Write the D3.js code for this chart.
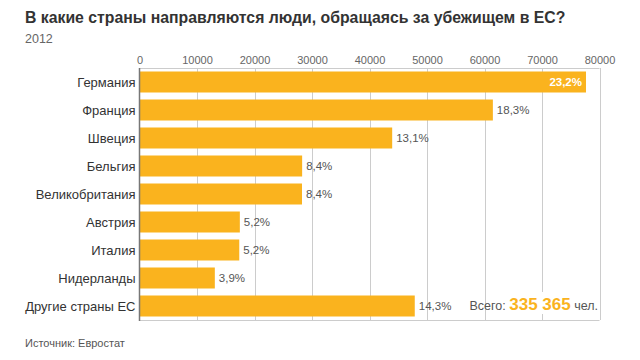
<!DOCTYPE html>
<html><head><meta charset="utf-8">
<script src="https://cdn.jsdelivr.net/npm/d3@7"></script>
<style>body{margin:0;background:#fff;font-family:"Liberation Sans",Arial,sans-serif;}</style>
</head><body><svg id="c" width="640" height="360"></svg>
<script>
const categories = ["Германия","Франция","Швеция","Бельгия","Великобритания","Австрия","Италия","Нидерланды","Другие страны ЕС"];
const values = [77650,61455,43945,28285,28260,17450,17350,13100,47870];
const shareLabels = ["23,2%","18,3%","13,1%","8,4%","8,4%","5,2%","5,2%","3,9%","14,3%"];
const tickValues = [0,10000,20000,30000,40000,50000,60000,70000,80000];
const title = "В какие страны направляются люди, обращаясь за убежищем в ЕС?";
const subtitle = "2012";
const source = "Источник: Евростат";
const totalLabel = "Всего:";
const totalValue = "335 365";
const totalUnit = "чел.";

const svg = d3.select("#c");
const orange = "#FAB31E";
const m = {left:139.5, right:599.5, top:68, bottom:320};
const x = d3.scaleLinear().domain([0,80000]).range([m.left,m.right]);
const y = d3.scaleBand().domain(categories).range([m.top,m.bottom]).paddingInner(0.25).paddingOuter(0.125);

svg.append("text").attr("x",25).attr("y",23).attr("font-size",15.8).attr("font-weight","bold").attr("fill","#333").text(title);
svg.append("text").attr("x",25).attr("y",43).attr("font-size",12.5).attr("fill","#666").text(subtitle);

// grid
svg.append("g").selectAll("line").data(tickValues.slice(1)).join("line")
  .attr("x1",d=>Math.round(x(d))+0.5).attr("x2",d=>Math.round(x(d))+0.5)
  .attr("y1",m.top).attr("y2",m.bottom).attr("stroke","#ccc").attr("stroke-width",1);
// frame
svg.append("line").attr("x1",m.left).attr("x2",m.right).attr("y1",m.top+0.5).attr("y2",m.top+0.5).attr("stroke","#ccc");
svg.append("line").attr("x1",m.left).attr("x2",m.right).attr("y1",m.bottom+0.5).attr("y2",m.bottom+0.5).attr("stroke","#ccc");

// top axis
const ax = svg.append("g").attr("transform",`translate(0,${m.top})`)
  .call(d3.axisTop(x).tickValues(tickValues).tickFormat(d3.format("d")).tickSize(0).tickPadding(4));
ax.select(".domain").remove();
ax.selectAll("text").attr("font-size",11).attr("fill","#666").attr("font-family","Liberation Sans, Arial, sans-serif");

// bars
svg.append("g").selectAll("rect").data(values).join("rect")
  .attr("x",x(0)).attr("y",(d,i)=>y(categories[i])).attr("width",d=>x(d)-x(0)).attr("height",y.bandwidth()).attr("fill",orange);

// left axis line
svg.append("line").attr("x1",m.left).attr("x2",m.left).attr("y1",m.top).attr("y2",m.bottom+1).attr("stroke","#777").attr("stroke-width",1.5);

// category labels
svg.append("g").selectAll("text").data(categories).join("text")
  .attr("x",m.left-4).attr("y",d=>y(d)+y.bandwidth()/2).attr("dy","0.35em")
  .attr("text-anchor","end").attr("font-size",13).attr("fill","#333").text(d=>d);

// value labels
svg.append("g").selectAll("text").data(values).join("text")
  .attr("x",(d,i)=>i===0? x(d)-4 : x(d)+4)
  .attr("y",(d,i)=>y(categories[i])+y.bandwidth()/2).attr("dy","0.35em")
  .attr("text-anchor",(d,i)=>i===0?"end":"start")
  .attr("font-size",11.5).attr("font-weight",(d,i)=>i===0?"bold":"normal")
  .attr("fill",(d,i)=>i===0?"#fff":"#555").text((d,i)=>shareLabels[i]);

// total
const ty = y(categories[8])+y.bandwidth()/2;
svg.append("rect").attr("x",507).attr("y",ty-14).attr("width",64).attr("height",22).attr("fill","#fff");
const tt = svg.append("text").attr("x",598).attr("y",ty).attr("dy","0.35em").attr("text-anchor","end").attr("fill","#555").attr("font-size",12.5);
tt.append("tspan").text(totalLabel+" ");
tt.append("tspan").attr("fill",orange).attr("font-size",17).attr("font-weight","bold").text(totalValue);
tt.append("tspan").text(" "+totalUnit);

svg.append("text").attr("x",25).attr("y",347).attr("font-size",11).attr("fill","#555").text(source);
</script></body></html>
